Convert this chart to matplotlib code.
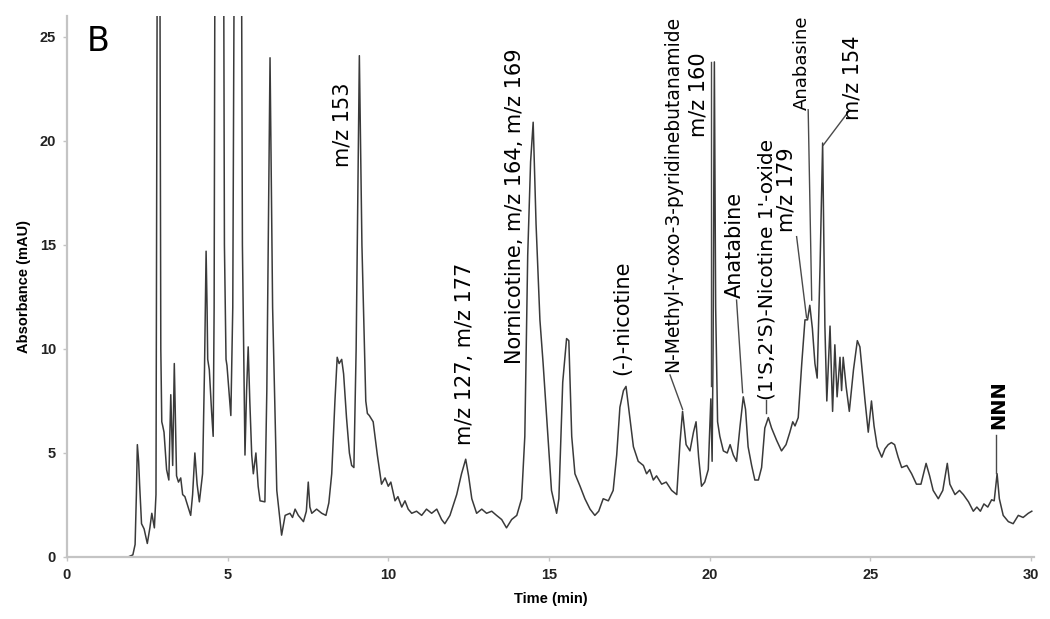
import matplotlib.pyplot as plt

# chromatogram trace (time in min, absorbance in mAU)
time_min = [
    0.0, 1.9, 2.05, 2.12, 2.16, 2.19, 2.21, 2.23, 2.26, 2.32, 2.40, 2.50, 2.58, 2.64, 2.72, 2.77,
    2.81, 2.85, 2.89, 2.92, 2.95, 2.98, 3.02, 3.10, 3.17, 3.23, 3.29, 3.34, 3.41, 3.47, 3.54, 3.60, 3.67,
    3.75, 3.85, 3.91, 3.98, 4.05, 4.12, 4.22, 4.28, 4.33, 4.36, 4.38, 4.43, 4.50, 4.55, 4.58, 4.62,
    4.73, 4.85, 4.90, 4.95, 4.98, 5.04, 5.10, 5.16, 5.26, 5.32, 5.39, 5.46, 5.54, 5.59, 5.64, 5.69,
    5.75, 5.80, 5.88, 5.95, 6.01, 6.16, 6.22, 6.32, 6.40, 6.53, 6.68, 6.79, 6.94, 7.02, 7.10, 7.20,
    7.36, 7.45, 7.51, 7.56, 7.62, 7.77, 7.93, 8.06, 8.15, 8.24, 8.34, 8.41, 8.47, 8.55, 8.61, 8.70,
    8.79, 8.86, 8.93, 9.00, 9.10, 9.18, 9.30, 9.35, 9.41, 9.53, 9.66, 9.79, 9.90, 10.00, 10.08, 10.21,
    10.30, 10.42, 10.52, 10.62, 10.73, 10.88, 11.04, 11.19, 11.35, 11.51, 11.66, 11.76, 11.92, 12.13,
    12.28, 12.41, 12.50, 12.60, 12.75, 12.91, 13.06, 13.22, 13.37, 13.53, 13.68, 13.84, 14.00, 14.15,
    14.25, 14.34, 14.43, 14.51, 14.60, 14.72, 14.82, 14.93, 15.08, 15.24, 15.31, 15.43, 15.55, 15.62,
    15.71, 15.81, 15.97, 16.12, 16.28, 16.43, 16.55, 16.69, 16.85, 17.00, 17.11, 17.21, 17.32, 17.40,
    17.52, 17.63, 17.78, 17.94, 18.04, 18.14, 18.25, 18.35, 18.51, 18.65, 18.82, 18.98, 19.08, 19.16,
    19.27, 19.39, 19.50, 19.58, 19.66, 19.75, 19.85, 19.96, 20.04, 20.08, 20.11, 20.15, 20.19, 20.25,
    20.32, 20.43, 20.55, 20.64, 20.74, 20.84, 20.95, 21.05, 21.12, 21.20, 21.31, 21.41, 21.52, 21.62,
    21.72, 21.83, 21.93, 22.09, 22.24, 22.38, 22.50, 22.59, 22.66, 22.76, 22.87, 22.97, 23.05, 23.12,
    23.20, 23.28, 23.35, 23.44, 23.52, 23.59, 23.65, 23.75, 23.83, 23.90, 23.97, 24.06, 24.11, 24.16,
    24.25, 24.35, 24.48, 24.60, 24.68, 24.84, 24.94, 25.04, 25.12, 25.22, 25.36, 25.46, 25.56, 25.66,
    25.76, 25.87, 25.98, 26.14, 26.29, 26.44, 26.58, 26.74, 26.85, 26.96, 27.12, 27.26, 27.40, 27.48,
    27.64, 27.78, 27.90, 28.06, 28.21, 28.32, 28.43, 28.54, 28.66, 28.78, 28.86, 28.95, 29.02, 29.14,
    29.30, 29.45, 29.61, 29.76, 29.92, 30.03,
]
absorbance = [
    0.0, 0.0, 0.1, 0.6, 3.0, 5.4, 5.0, 4.6, 3.5, 1.6, 1.35, 0.65, 1.4, 2.1, 1.4, 3.0,
    30.0, 45.0, 30.0, 10.0, 6.5, 6.3, 6.0, 4.2, 3.7, 7.8, 4.4, 9.3, 3.9, 3.6, 3.8, 3.0, 2.9,
    2.5, 2.0, 3.0, 5.0, 3.5, 2.65, 4.0, 9.0, 14.7, 12.0, 9.5, 9.0, 7.0, 5.8, 12.0, 40.0,
    33.0, 45.0, 15.0, 9.5, 9.2, 8.0, 6.8, 12.0, 50.0, 35.0, 50.0, 15.0, 4.9, 8.0, 10.1, 7.5,
    4.9, 4.0, 5.0, 3.4, 2.7, 2.65, 8.0, 24.0, 12.0, 3.2, 1.05, 2.0, 2.1, 1.9, 2.3, 2.0,
    1.7, 2.2, 3.6, 2.4, 2.1, 2.3, 2.1, 2.0, 2.6, 4.0, 7.5, 9.6, 9.3, 9.5, 8.8, 6.7,
    5.0, 4.4, 4.3, 10.0, 24.1, 15.0, 7.5, 6.9, 6.8, 6.5, 4.9, 3.5, 3.8, 3.4, 3.6, 2.7,
    2.9, 2.4, 2.7, 2.3, 2.1, 2.2, 2.0, 2.3, 2.1, 2.3, 1.8, 1.6, 2.0, 3.0,
    4.0, 4.7, 3.9, 2.8, 2.1, 2.3, 2.1, 2.2, 2.0, 1.8, 1.4, 1.8, 2.0, 2.8,
    5.8, 14.5, 19.0, 20.9, 16.0, 11.4, 9.3, 6.7, 3.2, 2.1, 2.8, 8.4, 10.5, 10.4,
    5.8, 4.0, 3.4, 2.8, 2.3, 2.0, 2.2, 2.8, 2.7, 3.2, 4.9, 7.2, 8.0, 8.2,
    6.7, 5.3, 4.6, 4.4, 4.0, 4.2, 3.7, 3.9, 3.5, 3.6, 3.2, 3.0, 5.5, 7.0,
    5.4, 5.1, 6.0, 6.5, 4.8, 3.4, 3.6, 4.2, 7.6, 4.6, 10.0, 23.8, 12.0, 6.5,
    5.8, 5.1, 5.0, 5.4, 4.9, 4.6, 6.3, 7.7, 7.1, 5.3, 4.4, 3.7, 3.7, 4.3,
    6.2, 6.7, 6.2, 5.6, 5.1, 5.4, 6.0, 6.5, 6.3, 6.7, 9.3, 11.4, 11.4, 12.1,
    11.0, 9.3, 8.6, 14.0, 19.9, 11.1, 7.5, 11.1, 7.0, 10.2, 7.7, 9.6, 8.0, 9.6,
    8.2, 7.0, 9.0, 10.4, 10.1, 7.5, 6.0, 7.5, 6.3, 5.3, 4.8, 5.2, 5.4, 5.5,
    5.4, 4.8, 4.3, 4.4, 4.0, 3.5, 3.5, 4.5, 3.9, 3.2, 2.8, 3.2, 4.5, 3.5,
    3.0, 3.2, 3.0, 2.65, 2.2, 2.4, 2.2, 2.55, 2.4, 2.75, 2.7, 4.0, 2.8, 2.0,
    1.7, 1.6, 2.0, 1.9, 2.1, 2.2,
]

# peak labels: text, x (min), bottom of text (mAU)
label_text = [
    "m/z 153", "m/z 127, m/z 177", "Nornicotine, m/z 164, m/z 169", "(-)-nicotine",
    "N-Methyl-\u03b3-oxo-3-pyridinebutanamide", "m/z 160", "Anatabine",
    "(1'S,2'S)-Nicotine 1'-oxide", "m/z 179", "Anabasine", "m/z 154", "NNN",
]
label_x = [8.56, 12.40, 13.94, 17.29, 18.85, 19.65, 20.78, 21.80, 22.39, 22.86, 24.45, 28.99]
label_y = [18.75, 5.4, 9.3, 8.75, 8.9, 20.2, 12.45, 7.55, 15.6, 21.5, 21.0, 6.15]
label_size = [15, 15, 15, 15, 13.5, 15, 15, 14.5, 15, 13, 15, 14]
label_weight = ["normal"] * 11 + ["bold"]

# leader lines from labels to peaks
leader_x0 = [18.77, 20.05, 20.84, 21.76, 22.71, 23.07, 24.32, 28.92]
leader_y0 = [8.75, 23.8, 12.35, 7.55, 15.4, 21.5, 21.4, 5.85]
leader_x1 = [19.16, 20.05, 21.03, 21.76, 23.02, 23.18, 23.54, 28.92]
leader_y1 = [7.1, 8.2, 7.9, 6.9, 11.5, 12.35, 19.8, 4.05]

x_ticks = [0, 5, 10, 15, 20, 25, 30]
y_ticks = [0, 5, 10, 15, 20, 25]

narrow = ["Liberation Sans Narrow", "Liberation Sans", "DejaVu Sans"]

fig = plt.figure(figsize=(10.5, 6.19), dpi=100)
ax = fig.add_axes([0.0638, 0.1002, 0.921, 0.8737])

ax.plot(time_min, absorbance, color="#3a3a3a", lw=1.1)

for x0, y0, x1, y1 in zip(leader_x0, leader_y0, leader_x1, leader_y1):
    ax.plot([x0, x1], [y0, y1], color="#4a4a4a", lw=1.0)

for txt, x, y, fs, fw in zip(label_text, label_x, label_y, label_size, label_weight):
    ax.text(x, y, txt, rotation=90, ha="center", va="bottom",
            fontsize=fs, fontweight=fw, color="black")

ax.text(0.96, 24.8, "B", fontsize=24, ha="center", va="center", color="black")

ax.set_xlim(0, 30.1)
ax.set_ylim(0, 26)
ax.set_xticks(x_ticks)
ax.set_yticks(y_ticks)

for side in ["top", "right"]:
    ax.spines[side].set_visible(False)
for side in ["left", "bottom"]:
    ax.spines[side].set_color("#c4c4c4")
    ax.spines[side].set_linewidth(1.6)

ax.tick_params(axis="both", length=3, width=1, color="#c4c4c4", pad=5,
               labelsize=10.5, labelcolor="#222222")
for lab in ax.get_xticklabels() + ax.get_yticklabels():
    lab.set_family(narrow)
    lab.set_fontweight("bold")

ax.set_xlabel("Time (min)", fontsize=10.5, fontweight="bold", family=narrow)
ax.set_ylabel("Absorbance (mAU)", fontsize=10.5, fontweight="bold", family=narrow)
ax.xaxis.set_label_coords(0.5, -0.065)
ax.yaxis.set_label_coords(-0.037, 0.5)

fig.savefig("out.png", dpi=100, facecolor="white")
